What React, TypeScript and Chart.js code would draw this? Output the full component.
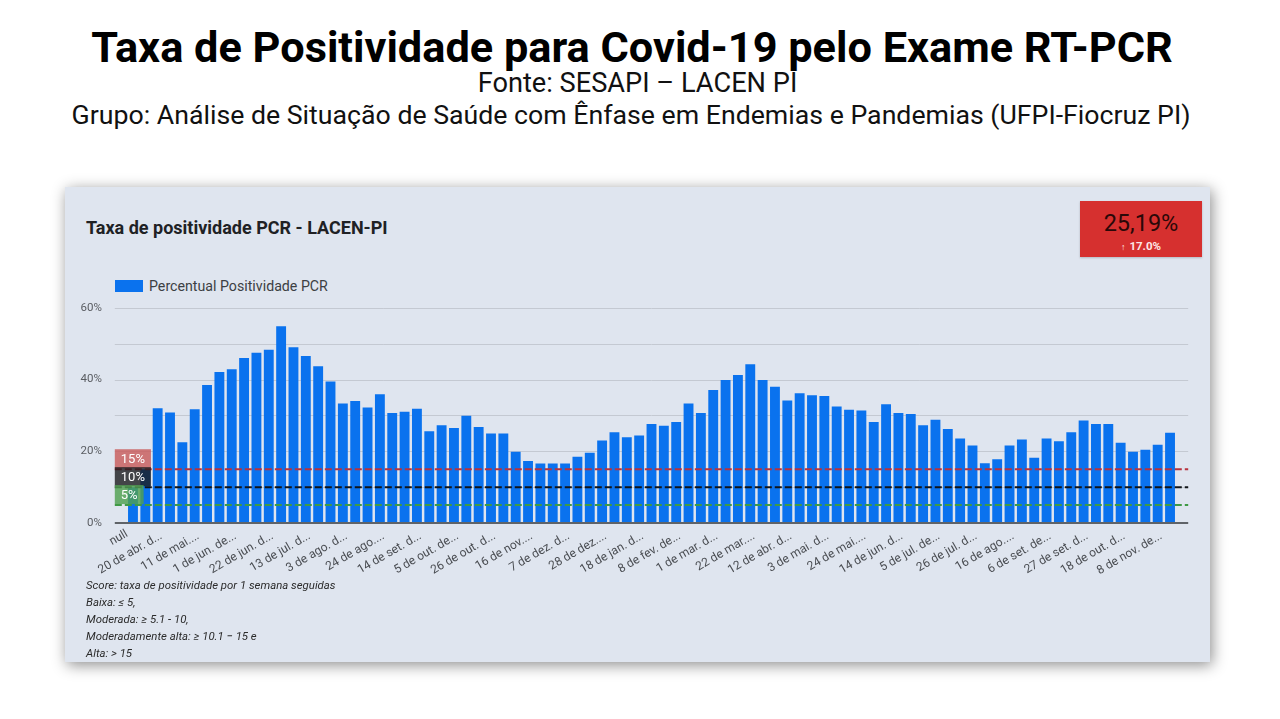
import React, { useEffect, useRef } from "react";
import { Chart, registerables } from "chart.js";

Chart.register(...registerables);

// ---------- DATA ----------
const weeks: string[] = [
  "null",
  "20 de abr. de 2020", "27 de abr. de 2020", "4 de mai. de 2020", "11 de mai. de 2020", "18 de mai. de 2020",
  "25 de mai. de 2020", "1 de jun. de 2020", "8 de jun. de 2020", "15 de jun. de 2020", "22 de jun. de 2020",
  "29 de jun. de 2020", "6 de jul. de 2020", "13 de jul. de 2020", "20 de jul. de 2020", "27 de jul. de 2020",
  "3 de ago. de 2020", "10 de ago. de 2020", "17 de ago. de 2020", "24 de ago. de 2020", "31 de ago. de 2020",
  "7 de set. de 2020", "14 de set. de 2020", "21 de set. de 2020", "28 de set. de 2020", "5 de out. de 2020",
  "12 de out. de 2020", "19 de out. de 2020", "26 de out. de 2020", "2 de nov. de 2020", "9 de nov. de 2020",
  "16 de nov. de 2020", "23 de nov. de 2020", "30 de nov. de 2020", "7 de dez. de 2020", "14 de dez. de 2020",
  "21 de dez. de 2020", "28 de dez. de 2020",
  "4 de jan. de 2021", "11 de jan. de 2021", "18 de jan. de 2021", "25 de jan. de 2021", "1 de fev. de 2021",
  "8 de fev. de 2021", "15 de fev. de 2021", "22 de fev. de 2021", "1 de mar. de 2021", "8 de mar. de 2021",
  "15 de mar. de 2021", "22 de mar. de 2021", "29 de mar. de 2021", "5 de abr. de 2021", "12 de abr. de 2021",
  "19 de abr. de 2021", "26 de abr. de 2021", "3 de mai. de 2021", "10 de mai. de 2021", "17 de mai. de 2021",
  "24 de mai. de 2021", "31 de mai. de 2021", "7 de jun. de 2021", "14 de jun. de 2021", "21 de jun. de 2021",
  "28 de jun. de 2021", "5 de jul. de 2021", "12 de jul. de 2021", "19 de jul. de 2021", "26 de jul. de 2021",
  "2 de ago. de 2021", "9 de ago. de 2021", "16 de ago. de 2021", "23 de ago. de 2021", "30 de ago. de 2021",
  "6 de set. de 2021", "13 de set. de 2021", "20 de set. de 2021", "27 de set. de 2021", "4 de out. de 2021",
  "11 de out. de 2021", "18 de out. de 2021", "25 de out. de 2021", "1 de nov. de 2021", "8 de nov. de 2021",
  "15 de nov. de 2021", "22 de nov. de 2021",
];

const positivity: number[] = [
  10, 15, 32.0, 30.8, 22.5, 31.7, 38.5, 42.1, 42.9, 46.0,
  47.5, 48.3, 54.9, 49.0, 46.6, 43.7, 39.5, 33.3, 34.0, 32.2,
  35.9, 30.7, 31.0, 31.9, 25.6, 27.3, 26.5, 29.9, 26.8, 25.0,
  25.0, 19.9, 17.3, 16.6, 16.6, 16.6, 18.5, 19.6, 23.0, 25.3,
  23.9, 24.4, 27.6, 27.1, 28.2, 33.3, 30.7, 37.1, 39.9, 41.3,
  44.3, 39.9, 38.0, 34.2, 36.2, 35.6, 35.4, 32.5, 31.6, 31.4,
  28.2, 33.1, 30.7, 30.4, 27.3, 28.8, 26.2, 23.6, 21.6, 16.7,
  17.8, 21.6, 23.3, 18.2, 23.6, 22.8, 25.3, 28.6, 27.6, 27.6,
  22.4, 19.9, 20.4, 21.8, 25.19,
];

// tick labels as shown (truncated) – null first, then every 3rd week
const tickLabels: string[] = [
  "null", "20 de abr. d...", "11 de mai....", "1 de jun. de...", "22 de jun. d...", "13 de jul. d...",
  "3 de ago. d...", "24 de ago....", "14 de set. d...", "5 de out. de...", "26 de out. d...",
  "16 de nov....", "7 de dez. d...", "28 de dez....", "18 de jan. d...", "8 de fev. de...",
  "1 de mar. d...", "22 de mar....", "12 de abr. d...", "3 de mai. d...", "24 de mai....",
  "14 de jun. d...", "5 de jul. de...", "26 de jul. d...", "16 de ago....", "6 de set. de...",
  "27 de set. d...", "18 de out. d...", "8 de nov. de...",
];
const labelEvery = 3;

const yMin = 0;
const yMax = 60;
const yStep = 10;
const yLabelEvery = 20;

const thresholds: number[] = [15, 10, 5];
const thresholdLabels: string[] = ["15%", "10%", "5%"];
const thresholdLineColors: string[] = ["#b8323e", "#111418", "#3f9a45"];
const thresholdBoxColors: string[] = ["rgba(201,92,92,0.82)", "rgba(28,28,30,0.80)", "rgba(80,160,80,0.82)"];

const seriesName = "Percentual Positividade PCR";
const chartTitle = "Taxa de positividade PCR - LACEN-PI";
const kpiValue = "25,19%";
const kpiDelta = "17.0%";

const footnotes: string[] = [
  "Score: taxa de positividade por 1 semana seguidas",
  "Baixa: ≤ 5,",
  "Moderada: ≥ 5.1 - 10,",
  "Moderadamente alta: ≥ 10.1 − 15 e",
  "Alta: > 15",
];

const barColor = "#0a72ee";
const FONT = "Roboto, 'Noto Sans', sans-serif";

// ---------- PLUGIN ----------
const EXT = 12;
const decorPlugin = {
  id: "decor",
  beforeDraw(chart: any) {
    // the "null" category label sits left of its tick in the original
    const x = chart.scales.x;
    const items = x.getLabelItems(chart.chartArea);
    items.forEach((it: any) => {
      if (it.label === tickLabels[0] && it.options && it.options.translation) {
        const [tx, ty] = it.options.translation;
        it.options.translation = [tx - 22, ty - 2];
      }
    });
  },
  beforeDatasetsDraw(chart: any) {
    const { ctx, chartArea, scales } = chart;
    const y = scales.y;
    ctx.save();
    ctx.strokeStyle = "#c4c9d2";
    ctx.lineWidth = 1;
    y.ticks.forEach((t: any) => {
      if (t.value === yMin) return;
      const py = Math.round(y.getPixelForValue(t.value)) + 0.5;
      ctx.beginPath();
      ctx.moveTo(chartArea.left - EXT, py);
      ctx.lineTo(chartArea.right + EXT, py);
      ctx.stroke();
    });
    ctx.restore();
  },
  afterDatasetsDraw(chart: any) {
    const { ctx, chartArea, scales } = chart;
    const y = scales.y;
    ctx.save();
    const by = y.getPixelForValue(yMin);
    ctx.strokeStyle = "#5f6368";
    ctx.lineWidth = 2;
    ctx.beginPath();
    ctx.moveTo(chartArea.left - EXT, by);
    ctx.lineTo(chartArea.right + EXT, by);
    ctx.stroke();
    thresholds.forEach((v, i) => {
      const py = y.getPixelForValue(v);
      ctx.strokeStyle = thresholdLineColors[i];
      ctx.lineWidth = 2;
      ctx.setLineDash([7, 3]);
      ctx.beginPath();
      ctx.moveTo(chartArea.left - EXT, py);
      ctx.lineTo(chartArea.right + EXT, py);
      ctx.stroke();
    });
    ctx.setLineDash([]);
    ctx.font = `13px ${FONT}`;
    ctx.textBaseline = "middle";
    thresholds.forEach((v, i) => {
      const py = y.getPixelForValue(v);
      const w = ctx.measureText(thresholdLabels[i]).width + 12;
      const h = 19;
      const x0 = chartArea.left - EXT;
      const y0 = py - 1 - h;
      ctx.fillStyle = thresholdBoxColors[i];
      ctx.fillRect(x0, y0, w, h);
      ctx.fillStyle = "#ffffff";
      ctx.fillText(thresholdLabels[i], x0 + 6, y0 + h / 2 + 1);
    });
    ctx.restore();
  },
};

// ---------- CHART ----------
const CANVAS_TOP = 89;
const CANVAS_H = 314;

function PositivityChart() {
  const ref = useRef<HTMLCanvasElement | null>(null);
  useEffect(() => {
    if (!ref.current) return;
    Chart.defaults.font.family = FONT;
    const chart = new Chart(ref.current, {
      type: "bar",
      data: {
        labels: weeks,
        datasets: [
          {
            label: seriesName,
            data: positivity,
            backgroundColor: barColor,
            borderWidth: 0,
            barPercentage: 0.8,
            categoryPercentage: 1,
          },
        ],
      },
      plugins: [decorPlugin],
      options: {
        animation: false,
        responsive: false,
        maintainAspectRatio: false,
        layout: { padding: { top: 13, left: 0, right: 33.8, bottom: 0 } },
        plugins: {
          legend: { display: false },
          title: { display: false },
          tooltip: { enabled: false },
        },
        scales: {
          x: {
            type: "category",
            offset: true,
            grid: { display: false, drawTicks: false },
            border: { display: false },
            ticks: {
              autoSkip: false,
              minRotation: 30,
              maxRotation: 30,
              padding: 6,
              labelOffset: 16,
              color: "#4a4d52",
              font: { size: 12, family: FONT },
              callback: (_v: any, idx: number) => {
                if (idx === 0) return tickLabels[0];
                if ((idx - 1) % labelEvery === 0) return tickLabels[(idx - 1) / labelEvery + 1] ?? "";
                return "";
              },
            },
            afterFit: (s: any) => {
              s.height = 67;
            },
          },
          y: {
            min: yMin,
            max: yMax,
            grid: { display: false, drawTicks: false },
            border: { display: false },
            ticks: {
              stepSize: yStep,
              padding: 25,
              color: "#5a5d62",
              font: { size: 11.5, family: FONT },
              callback: (v: any) => (Number(v) % yLabelEvery === 0 ? `${v}%` : ""),
            },
            afterFit: (s: any) => {
              s.width = 61.8;
            },
          },
        },
      },
    });
    return () => chart.destroy();
  }, []);
  return (
    <canvas
      ref={ref}
      width={1145}
      height={CANVAS_H}
      style={{ position: "absolute", left: 0, top: CANVAS_TOP, width: 1145, height: CANVAS_H }}
    />
  );
}

export default function App() {
  return (
    <div
      style={{
        position: "fixed",
        left: 0,
        top: 0,
        width: 1280,
        height: 719,
        background: "#ffffff",
        fontFamily: FONT,
        overflow: "hidden",
      }}
    >
      <div
        style={{
          position: "absolute",
          left: 0,
          width: 1264,
          top: 22,
          lineHeight: "52px",
          fontSize: 43.3,
          fontWeight: 700,
          color: "#000",
          textAlign: "center",
          whiteSpace: "nowrap",
        }}
      >
        Taxa de Positividade para Covid-19 pelo Exame RT-PCR
      </div>
      <div
        style={{
          position: "absolute",
          left: 0,
          width: 1275,
          top: 67,
          lineHeight: "32px",
          fontSize: 27.2,
          color: "#111",
          textAlign: "center",
          whiteSpace: "nowrap",
        }}
      >
        Fonte: SESAPI – LACEN PI
      </div>
      <div
        style={{
          position: "absolute",
          left: 0,
          width: 1262,
          top: 99,
          lineHeight: "32px",
          fontSize: 26.7,
          color: "#111",
          textAlign: "center",
          whiteSpace: "nowrap",
        }}
      >
        Grupo: Análise de Situação de Saúde com Ênfase em Endemias e Pandemias (UFPI-Fiocruz PI)
      </div>

      <div
        style={{
          position: "absolute",
          left: 65,
          top: 187,
          width: 1145,
          height: 475,
          background: "#dfe5ef",
          boxShadow: "2px 3px 14px rgba(0,0,0,0.45)",
        }}
      >
        <div
          style={{
            position: "absolute",
            left: 21,
            top: 30,
            lineHeight: "22px",
            fontSize: 18,
            fontWeight: 700,
            color: "#202124",
            whiteSpace: "nowrap",
          }}
        >
          {chartTitle}
        </div>

        <div
          style={{
            position: "absolute",
            left: 1015,
            top: 14,
            width: 122,
            height: 56,
            background: "#d6302f",
            boxShadow: "0 1px 2px rgba(0,0,0,0.2)",
            textAlign: "center",
          }}
        >
          <div style={{ position: "absolute", left: 0, width: 122, top: 9, lineHeight: "26px", fontSize: 23.5, color: "#2a0808" }}>
            {kpiValue}
          </div>
          <div
            style={{
              position: "absolute",
              left: 0,
              width: 122,
              top: 37,
              lineHeight: "16px",
              fontSize: 11.5,
              fontWeight: 700,
              color: "#fde6e6",
            }}
          >
            <span style={{ fontSize: 9, marginRight: 4 }}>↑</span>
            {kpiDelta}
          </div>
        </div>

        <div style={{ position: "absolute", left: 50, top: 93, width: 28, height: 12, background: barColor }} />
        <div
          style={{
            position: "absolute",
            left: 84,
            top: 89,
            lineHeight: "20px",
            fontSize: 14.2,
            color: "#3c4043",
            whiteSpace: "nowrap",
          }}
        >
          {seriesName}
        </div>

        <PositivityChart />

        <div style={{ position: "absolute", left: 21, top: 390 }}>
          {footnotes.map((f, i) => (
            <div
              key={i}
              style={{ lineHeight: "17px", fontSize: 11.4, fontStyle: "italic", color: "#2b2b2b", whiteSpace: "nowrap" }}
            >
              {f}
            </div>
          ))}
        </div>
      </div>
    </div>
  );
}
